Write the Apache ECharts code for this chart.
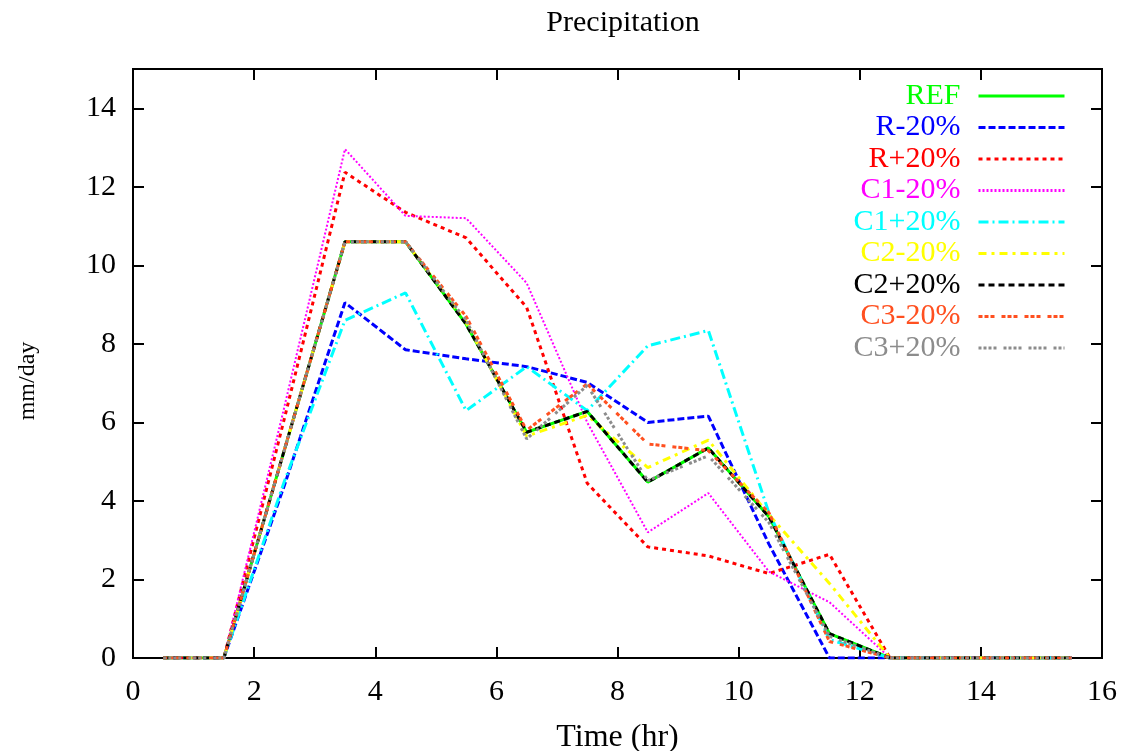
<!DOCTYPE html>
<html>
<head>
<meta charset="utf-8">
<script src="https://cdn.jsdelivr.net/npm/echarts@6/dist/echarts.min.js"></script>
<style>
html,body{margin:0;padding:0;background:#fff;}
#chart{width:1122px;height:751px;}
</style>
</head>
<body>
<div id="chart"></div>
<script>
var times = [0.5,1.5,2.5,3.5,4.5,5.5,6.5,7.5,8.5,9.5,10.5,11.5,12.5,13.5,14.5,15.5];
var seriesNames = ['REF','R-20%','R+20%','C1-20%','C1+20%','C2-20%','C2+20%','C3-20%','C3+20%'];
var ref    = [0,0,5.3,10.6,10.6,8.5,5.75,6.28,4.48,5.35,3.6,0.62,0,0,0,0];
var rMinus = [0,0,4.4,9.05,7.85,7.62,7.42,7.02,6.0,6.16,2.9,0,0,0,0,0];
var rPlus  = [0,0,6.1,12.37,11.35,10.7,8.93,4.45,2.83,2.6,2.15,2.64,0,0,0,0];
var c1Minus= [0,0,6.4,12.96,11.26,11.2,9.55,6.0,3.2,4.2,2.2,1.42,0,0,0,0];
var c1Plus = [0,0,4.5,8.6,9.3,6.3,7.42,6.3,7.95,8.34,3.7,0.47,0,0,0,0];
var c2Minus= [0,0,5.3,10.6,10.6,8.55,5.65,6.18,4.85,5.55,3.65,1.9,0,0,0,0];
var c2Plus = [0,0,5.3,10.6,10.6,8.5,5.75,6.28,4.48,5.35,3.6,0.62,0,0,0,0];
var c3Minus= [0,0,5.3,10.6,10.6,8.7,5.8,6.98,5.45,5.28,3.7,0.42,0,0,0,0];
var c3Plus = [0,0,5.3,10.6,10.6,8.6,5.58,6.94,4.52,5.15,3.45,0.55,0,0,0,0];
var xTicks = [0,2,4,6,8,10,12,14,16];
var yTicks = [0,2,4,6,8,10,12,14];

var allValues = [ref,rMinus,rPlus,c1Minus,c1Plus,c2Minus,c2Plus,c3Minus,c3Plus];
var colors = ['#00ff00','#0000ff','#ff0000','#ff00ff','#00ffff','#ffff00','#000000','#ff5020','#8c8c8c'];
var dashes = ['solid',[7,3],[4,4],[2,2],[10,4,2,4],[8,5,3,5],[6,4],[4,2,4,2,4,7],[3,2,3,2,3,2,3,7]];
var widths = [3,3,3,2,3,3,3,3,3];

var FONT = 'Liberation Serif';
var chart = echarts.init(document.getElementById('chart'));
var series = seriesNames.map(function(n,i){
  return {
    name:n, type:'line', symbol:'none', showSymbol:false, animation:false,
    data: times.map(function(t,j){return [t, allValues[i][j]];}),
    lineStyle:{color:colors[i], width:widths[i], type:dashes[i]},
    itemStyle:{color:colors[i]}
  };
});
var axisCommon = {
  axisLine:{show:true,onZero:false,lineStyle:{color:'#000',width:2}},
  axisTick:{show:true,inside:true,length:11,lineStyle:{color:'#000',width:2}},
  splitLine:{show:false}
};
chart.setOption({
  backgroundColor:'#fff',
  animation:false,
  title:{text:'Precipitation', left:618, top:3, textAlign:'center',
    textStyle:{fontFamily:FONT, fontSize:30, fontWeight:'normal', color:'#000'}},
  grid:{left:133, right:20, top:69, bottom:93, containLabel:false, outerBoundsMode:'none',
    show:true, borderColor:'#000', borderWidth:2},
  legend:{
    orient:'vertical', align:'right', right:51, top:76,
    itemWidth:86, itemHeight:14, itemGap:1.5,
    itemStyle:{opacity:0},
    lineStyle:{width:3},
    data: seriesNames.map(function(n,i){return {name:n, textStyle:{color:colors[i]}};}),
    textStyle:{fontFamily:FONT, fontSize:30, padding:[0,13,0,0]}
  },
  xAxis:[
    Object.assign({type:'value', min:xTicks[0], max:xTicks[xTicks.length-1], interval:2, position:'bottom',
      name:'Time (hr)', nameLocation:'middle', nameGap:64,
      nameTextStyle:{fontFamily:FONT, fontSize:32, color:'#000'},
      axisLabel:{fontFamily:FONT, fontSize:30, color:'#000', margin:19}}, axisCommon),
    Object.assign({type:'value', min:xTicks[0], max:xTicks[xTicks.length-1], interval:2, position:'top',
      axisLabel:{show:false}}, axisCommon)
  ],
  yAxis:[
    Object.assign({type:'value', min:yTicks[0], max:15, interval:2, position:'left',
      axisLabel:{fontFamily:FONT, fontSize:30, color:'#000', margin:17,
        showMaxLabel:false}}, axisCommon),
    Object.assign({type:'value', min:yTicks[0], max:15, interval:2, position:'right',
      axisLabel:{show:false}}, axisCommon)
  ],
  graphic:[{type:'text', x:28, y:381, rotation:Math.PI/2,
    style:{text:'mm/day', fontFamily:FONT, fontSize:24, fill:'#000', textAlign:'center', textVerticalAlign:'middle'}}],
  series: series
});
</script>
</body>
</html>
